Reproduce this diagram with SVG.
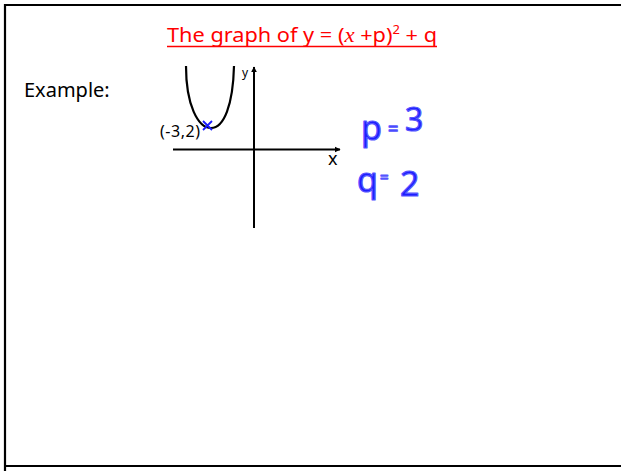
<svg xmlns="http://www.w3.org/2000/svg" width="621" height="471" viewBox="0 0 621 471">
<defs>
<style>
.t{font-family:"Noto Sans","Open Sans",sans-serif;}
.ink{font-family:"Noto Sans",sans-serif;font-weight:400;fill:#1e1eff;stroke:#5555ff;stroke-width:1.2;stroke-linejoin:round;}
.ax{stroke:#000;stroke-width:2;fill:none;}
</style>
<marker id="ah" viewBox="0 0 10 10" refX="9" refY="5" markerWidth="6" markerHeight="7" orient="auto" markerUnits="userSpaceOnUse">
<path d="M0,0 L10,5 L0,10 Z" fill="#000"/>
</marker>
</defs>
<rect x="0" y="0" width="621" height="471" fill="#fff"/>
<path d="M5,471 V5 H621 M5,466 H621" stroke="#000" stroke-width="2.2" fill="none"/>
<g id="title">
<text class="t" x="167" y="42" font-size="20" fill="#ff0000" textLength="270" lengthAdjust="spacingAndGlyphs">The graph of y = (<tspan font-family="Liberation Serif,serif" font-style="italic" font-size="21">x</tspan> +p)<tspan font-size="12" dy="-8">2</tspan><tspan dy="8"> + q</tspan></text>
<line x1="167" y1="46.5" x2="437" y2="46.5" stroke="#ff0000" stroke-width="1.3"/>
</g>
<g id="example"><text class="t" x="24" y="97" font-size="20" fill="#000">Example:</text></g>
<g id="connectors">
<line class="ax" x1="173" y1="149.5" x2="340" y2="149.5" marker-end="url(#ah)"/>
<line class="ax" x1="254" y1="228" x2="254" y2="67" marker-end="url(#ah)"/>
</g>
<g id="axis-labels">
<text class="t" x="242" y="77" font-size="12" fill="#000">y</text>
<text class="t" x="328" y="165" font-size="18" fill="#000">x</text>
</g>
<g id="parabola">
<path d="M186,66 C186,105 198,128 211,128 C224,128 233,105 234,66" stroke="#000" stroke-width="2.2" fill="none"/>
</g>
<g id="vertex">
<path d="M203,121 L212,130 M212,121 L203,130" stroke="#1a1aff" stroke-width="1.8"/>
<text class="t" x="160" y="137" font-size="16" fill="#000" textLength="40">(-3,2)</text>
</g>
<g id="notes">
<text class="ink" x="361" y="140" font-size="34">p</text>
<text class="ink" x="388" y="135" font-size="18">=</text>
<text class="ink" x="405" y="131" font-size="32">3</text>
<text class="ink" x="357" y="192" font-size="34">q</text>
<text class="ink" x="380" y="182" font-size="15">=</text>
<text class="ink" x="400" y="196" font-size="34">2</text>
</g>
</svg>
